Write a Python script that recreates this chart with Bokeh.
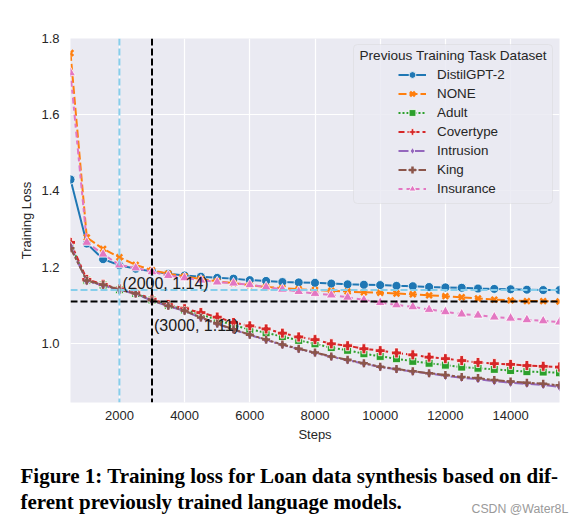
from bokeh.plotting import figure
from bokeh.models import (Range1d, FixedTicker, Span, Label, Legend, LegendItem,
                          BoxAnnotation, NumeralTickFormatter)
from bokeh.embed import file_html
from bokeh.resources import INLINE

steps = list(range(500, 16000, 500))

distilgpt2 = [1.430, 1.262, 1.221, 1.205, 1.196, 1.189, 1.183, 1.178, 1.175, 1.172,
              1.170, 1.166, 1.164, 1.161, 1.160, 1.159, 1.157, 1.155, 1.154, 1.153,
              1.151, 1.150, 1.148, 1.147, 1.146, 1.144, 1.143, 1.142, 1.141, 1.140, 1.140]
none_ = [1.762, 1.278, 1.248, 1.226, 1.206, 1.192, 1.183, 1.176, 1.169, 1.163,
         1.158, 1.153, 1.148, 1.145, 1.142, 1.140, 1.138, 1.136, 1.134, 1.133,
         1.131, 1.129, 1.126, 1.124, 1.121, 1.118, 1.115, 1.113, 1.111, 1.111, 1.110]
adult = [1.260, 1.166, 1.153, 1.141, 1.131, 1.114, 1.100, 1.088, 1.076, 1.062,
         1.047, 1.037, 1.028, 1.018, 1.008, 0.999, 0.989, 0.982, 0.973, 0.966,
         0.960, 0.953, 0.948, 0.943, 0.938, 0.935, 0.932, 0.929, 0.926, 0.925, 0.923]
covertype = [1.265, 1.168, 1.155, 1.143, 1.133, 1.116, 1.102, 1.091, 1.081, 1.069,
             1.055, 1.046, 1.038, 1.027, 1.017, 1.010, 0.999, 0.994, 0.986, 0.981,
             0.975, 0.970, 0.964, 0.960, 0.955, 0.950, 0.947, 0.945, 0.942, 0.940, 0.938]
intrusion = [1.255, 1.163, 1.152, 1.140, 1.130, 1.112, 1.098, 1.085, 1.067, 1.051,
             1.036, 1.022, 1.009, 0.996, 0.985, 0.975, 0.965, 0.956, 0.947, 0.938,
             0.932, 0.926, 0.921, 0.915, 0.910, 0.906, 0.901, 0.897, 0.894, 0.891, 0.886]
king = [1.250, 1.165, 1.154, 1.141, 1.131, 1.113, 1.099, 1.086, 1.068, 1.052,
        1.037, 1.023, 1.010, 0.997, 0.986, 0.976, 0.966, 0.957, 0.948, 0.939,
        0.933, 0.927, 0.922, 0.917, 0.912, 0.909, 0.904, 0.900, 0.897, 0.894, 0.890]
insurance = [1.710, 1.265, 1.234, 1.206, 1.198, 1.188, 1.178, 1.172, 1.166, 1.161,
             1.158, 1.154, 1.148, 1.142, 1.136, 1.131, 1.127, 1.121, 1.114, 1.107,
             1.101, 1.096, 1.089, 1.083, 1.077, 1.074, 1.069, 1.066, 1.062, 1.059, 1.056]

series_names = ["DistilGPT-2", "NONE", "Adult", "Covertype", "Intrusion", "King", "Insurance"]
series_values = [distilgpt2, none_, adult, covertype, intrusion, king, insurance]

x_ticks = [2000, 4000, 6000, 8000, 10000, 12000, 14000]
y_ticks = [1.0, 1.2, 1.4, 1.6, 1.8]

ref_points = [(2000, 1.14), (3000, 1.11)]
ref_labels = ["(2000, 1.14)", "(3000, 1.11)"]

legend_title = "Previous Training Task Dataset"
caption_lines = ["Figure 1: Training loss for Loan data synthesis based on dif-",
                 "ferent previously trained language models."]
watermark = "CSDN @Water8L"

colors = ["#1f77b4", "#ff7f0e", "#2ca02c", "#d62728", "#9467bd", "#8c564b", "#e377c2"]
dashes = ["solid", "8 3", "2 2", "6 3 3 3", "10 2 2 2", "8 2 3 2 3 2", "4 4 6 3"]
markers = ["circle", "x", "square", "plus", "diamond", "cross", "triangle"]
msizes = [9, 8, 8, 10, 10, 8, 10]

FONT = "Liberation Sans"
TXT = "#262626"

p = figure(width=580, height=521, output_backend="svg", toolbar_location=None,
           x_range=Range1d(500, 15500), y_range=Range1d(0.845, 1.8),
           min_border_left=70, min_border_right=21, min_border_top=38,
           min_border_bottom=119)
p.background_fill_color = "#EAEAF2"
p.border_fill_color = "white"
p.outline_line_color = None
p.grid.grid_line_color = "white"
p.grid.grid_line_width = 1.2

p.xaxis.ticker = FixedTicker(ticks=x_ticks)
p.yaxis.ticker = FixedTicker(ticks=y_ticks)
p.xaxis.formatter = NumeralTickFormatter(format="0")
p.yaxis.formatter = NumeralTickFormatter(format="0.0")
for ax in (p.xaxis[0], p.yaxis[0]):
    ax.axis_line_color = None
    ax.major_tick_line_color = None
    ax.minor_tick_line_color = None
    ax.major_label_text_font = FONT
    ax.major_label_text_font_size = "13px"
    ax.major_label_text_color = TXT
    ax.axis_label_text_font = FONT
    ax.axis_label_text_font_size = "13px"
    ax.axis_label_text_font_style = "normal"
    ax.axis_label_text_color = TXT
p.xaxis.axis_label = "Steps"
p.yaxis.axis_label = "Training Loss"
p.xaxis.major_label_standoff = 2
p.yaxis.major_label_standoff = 5
p.xaxis.axis_label_standoff = 4
p.yaxis.axis_label_standoff = 4

items = []
for name, vals, c, d, m, s in zip(series_names, series_values, colors, dashes, markers, msizes):
    lr = p.line(steps, vals, line_color=c, line_width=2, line_dash=d)
    if m in ("x", "cross"):
        sr = p.scatter(steps, vals, marker=m, size=s, line_color=c, line_width=2.5)
    else:
        sr = p.scatter(steps, vals, marker=m, size=s, fill_color=c,
                       line_color="white", line_width=0.8)
    items.append(LegendItem(label=name, renderers=[lr, sr]))

(x1, y1), (x2, y2) = ref_points
p.add_layout(Span(location=x1, dimension="height", line_color="#87CEEB", line_width=2, line_dash="7 3"))
p.add_layout(Span(location=y1, dimension="width", line_color="#87CEEB", line_width=2, line_dash="7 3"))
p.add_layout(Span(location=x2, dimension="height", line_color="black", line_width=2, line_dash="7 3"))
p.add_layout(Span(location=y2, dimension="width", line_color="black", line_width=2, line_dash="7 3"))

p.add_layout(Label(x=x1, y=y1, text=ref_labels[0], x_offset=3, y_offset=7,
                   text_font=FONT, text_font_size="16px", text_color="#1a1a1a",
                   text_baseline="alphabetic"))
p.add_layout(Label(x=x2, y=y2, text=ref_labels[1], x_offset=2, y_offset=-24,
                   text_font=FONT, text_font_size="16px", text_color="#1a1a1a",
                   text_baseline="alphabetic"))

# legend frame + title (screen units, relative to the plot frame)
p.add_layout(BoxAnnotation(left=283, right=482, top=358, bottom=199,
                           left_units="screen", right_units="screen",
                           top_units="screen", bottom_units="screen",
                           fill_color="#EAEAF2", fill_alpha=0.85,
                           line_color="#cccccc", line_width=1, border_radius=4))
p.add_layout(Label(x=289, y=347, x_units="screen", y_units="screen",
                   text=legend_title, text_font=FONT,
                   text_font_size="13.6px", text_color=TXT, text_baseline="middle"))

legend = Legend(items=items, location=(328, 205), padding=0, spacing=2,
                glyph_width=28, glyph_height=17, label_height=17, label_standoff=11,
                label_text_font=FONT, label_text_font_size="13.4px", label_text_color=TXT,
                background_fill_alpha=0, border_line_alpha=0)
p.add_layout(legend, "center")

# caption lines: labels in the bottom side panel (screen units, y up from panel bottom)
p.add_layout(Label(x=-50, y=-7, x_units="screen", y_units="screen",
                   text=caption_lines[0], text_font="Liberation Serif",
                   text_font_style="bold", text_font_size="21px", text_color="black",
                   text_baseline="alphabetic"), "below")
p.add_layout(Label(x=-50, y=-9, x_units="screen", y_units="screen",
                   text=caption_lines[1], text_font="Liberation Serif",
                   text_font_style="bold", text_font_size="21px", text_color="black",
                   text_baseline="alphabetic"), "below")
# watermark: placed through the (empty) top panel
p.add_layout(Label(x=401, y=-470, x_units="screen", y_units="screen",
                   text=watermark, text_font=FONT, text_font_size="12.3px",
                   text_color="#9a9a9a", text_baseline="alphabetic"), "above")

open("out.html", "w").write(file_html(p, INLINE))
